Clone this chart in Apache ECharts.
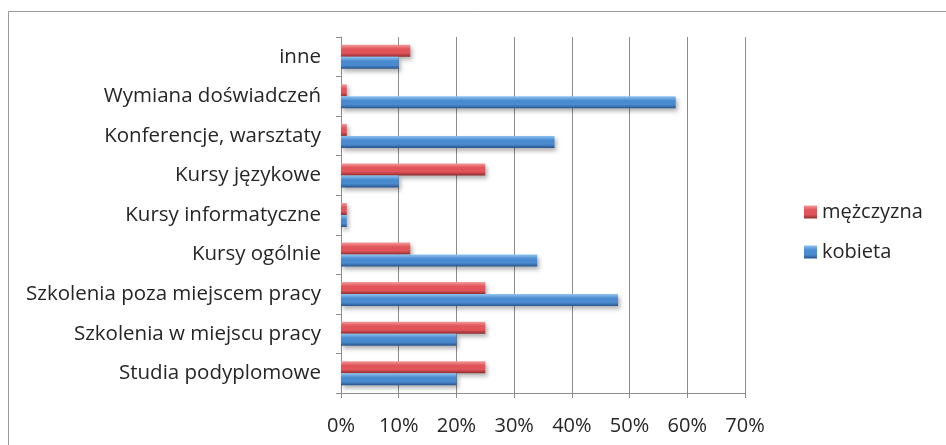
<!DOCTYPE html>
<html>
<head>
<meta charset="utf-8">
<script src="https://cdn.jsdelivr.net/npm/echarts@6/dist/echarts.min.js"></script>
<style>
  html, body { margin: 0; padding: 0; background: #fff; }
  #chart { width: 946px; height: 445px; }
</style>
</head>
<body>
<div id="chart"></div>
<script>
// Categories listed bottom to top along the value axis
const categories = [
  'Studia podyplomowe',
  'Szkolenia w miejscu pracy',
  'Szkolenia poza miejscem pracy',
  'Kursy ogólnie',
  'Kursy informatyczne',
  'Kursy językowe',
  'Konferencje, warsztaty',
  'Wymiana doświadczeń',
  'inne'
];
const kobieta = [20, 20, 48, 34, 1, 10, 37, 58, 10];
const mezczyzna = [25, 25, 25, 12, 1, 25, 1, 1, 12];
const xTicks = [0, 10, 20, 30, 40, 50, 60, 70];

const font = '"Open Sans", "Noto Sans", sans-serif';
const textColor = '#262626';

function grad(light, mid, dark) {
  return new echarts.graphic.LinearGradient(0, 0, 0, 1, [
    { offset: 0, color: light },
    { offset: 0.35, color: mid },
    { offset: 0.7, color: mid },
    { offset: 1, color: dark }
  ]);
}

const redFill = grad('#f49a9a', '#e0545a', '#8e2d2f');
const blueFill = grad('#8fc3f0', '#4a8bd0', '#28548c');

const barStyle = fill => ({
  color: fill,
  shadowBlur: 4,
  shadowOffsetX: 2,
  shadowOffsetY: 3,
  shadowColor: 'rgba(0,0,0,0.3)'
});

const chart = echarts.init(document.getElementById('chart'), null, { renderer: 'canvas' });
chart.setOption({
  animation: false,
  backgroundColor: '#fff',
  graphic: [{
    type: 'rect',
    shape: { x: 8.5, y: 11.5, width: 960, height: 460 },
    style: { fill: 'none', stroke: '#9a9a9a', lineWidth: 1 },
    z: -1
  }],
  grid: { left: 341, right: 201, top: 37, bottom: 52, containLabel: false },
  legend: {
    orient: 'vertical',
    left: 804,
    top: 202,
    padding: 0,
    icon: 'rect',
    itemWidth: 13,
    itemHeight: 13,
    itemGap: 20,
    data: ['mężczyzna', 'kobieta'],
    textStyle: { fontFamily: font, fontSize: 20, lineHeight: 20, color: textColor, padding: [0, 0, 0, 0] }
  },
  xAxis: {
    type: 'value',
    min: 0,
    max: 70,
    interval: 10,
    axisLine: { show: true, lineStyle: { color: '#8c8c8c', width: 1 } },
    axisTick: { show: true, length: 5, lineStyle: { color: '#8c8c8c' } },
    splitLine: { show: true, lineStyle: { color: '#8c8c8c', width: 1 } },
    axisLabel: {
      margin: 23,
      fontFamily: font,
      fontSize: 20,
      color: textColor,
      formatter: v => xTicks.includes(v) ? v + '%' : ''
    }
  },
  yAxis: {
    type: 'category',
    data: categories,
    axisLine: { show: true, lineStyle: { color: '#8c8c8c', width: 1 } },
    axisTick: { show: true, length: 5, lineStyle: { color: '#8c8c8c' } },
    axisLabel: { margin: 20, fontFamily: font, fontSize: 20.5, color: textColor }
  },
  series: [
    {
      name: 'mężczyzna',
      type: 'bar',
      data: mezczyzna,
      barWidth: 12,
      barGap: '0%',
      itemStyle: barStyle(redFill)
    },
    {
      name: 'kobieta',
      type: 'bar',
      data: kobieta,
      barWidth: 12,
      barGap: '0%',
      itemStyle: barStyle(blueFill)
    }
  ]
});
</script>
</body>
</html>
